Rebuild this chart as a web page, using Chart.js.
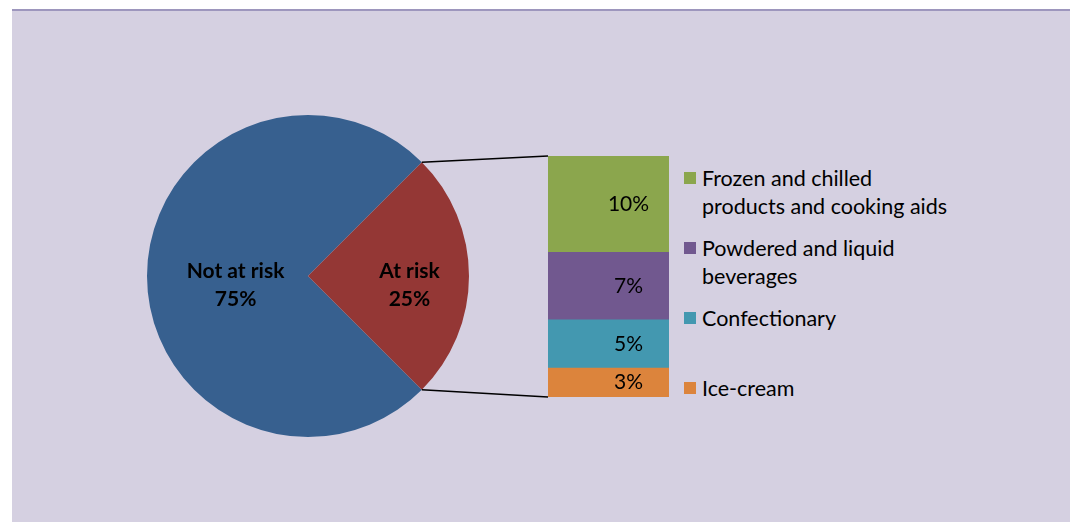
<!DOCTYPE html>
<html>
<head>
<meta charset="utf-8">
<script src="https://cdn.jsdelivr.net/npm/chart.js@4.4.1/dist/chart.umd.min.js"></script>
<style>
  body { margin: 0; width: 1070px; height: 522px; background: #fff; position: relative; overflow: hidden; font-family: Lato, sans-serif; }
  #frame { position: absolute; left: 12px; top: 9px; right: 0; bottom: 0; background: #d5d0e1; border-top: 2px solid #9d96bd; }
  .box { position: absolute; }
  #pieBox { left: 147px; top: 115px; width: 322px; height: 322px; }
  #barBox { left: 548px; top: 156px; width: 121px; height: 241px; }
  #lines { position: absolute; left: 0; top: 0; z-index: 2; pointer-events: none; }
  #legend { position: absolute; left: 684px; top: 164px; width: 320px; }
  .item { display: flex; align-items: flex-start; height: 70px; }
  .swatch { width: 12px; height: 12px; margin-top: 8px; margin-right: 6px; flex: none; }
  .label { font-size: 21.5px; line-height: 28px; color: #000; width: 254px; }
</style>
</head>
<body>
<div id="frame"></div>
<div class="box" id="pieBox"><canvas id="pieChart"></canvas></div>
<div class="box" id="barBox"><canvas id="barChart"></canvas></div>
<canvas id="lines" width="1070" height="522"></canvas>
<div id="legend"></div>

<script>
// main pie
const pieLabels = ['Not at risk', 'At risk'];
const pieValues = [75, 25];
const pieColors = ['#37608f', '#943735'];

// breakdown of the "At risk" slice (top to bottom)
const splitLabels = ['Frozen and chilled products and cooking aids', 'Powdered and liquid beverages', 'Confectionary', 'Ice-cream'];
const splitValues = [10, 7, 5, 3];
const splitColors = ['#8ba64d', '#71588f', '#4398b0', '#dc843c'];

Chart.defaults.font.family = 'Lato, sans-serif';

const pieText = {
    id: 'pieText',
    afterDatasetsDraw(chart) {
        const ctx = chart.ctx;
        const total = pieValues.reduce((a, b) => a + b, 0);
        const reach = [0.45, 0.63];
        ctx.save();
        ctx.font = 'bold 21px Lato, sans-serif';
        ctx.fillStyle = '#000';
        ctx.textAlign = 'center';
        ctx.textBaseline = 'middle';
        chart.getDatasetMeta(0).data.forEach((arc, i) => {
            const mid = (arc.startAngle + arc.endAngle) / 2;
            const cx = arc.x + Math.cos(mid) * arc.outerRadius * reach[i];
            const cy = arc.y + Math.sin(mid) * arc.outerRadius * reach[i];
            ctx.fillText(pieLabels[i], cx, cy - 5);
            ctx.fillText(Math.round(pieValues[i] / total * 100) + '%', cx, cy + 23);
        });
        ctx.restore();
    }
};

const pieChart = new Chart(document.getElementById('pieChart'), {
    type: 'pie',
    data: {
        labels: pieLabels,
        datasets: [{
            data: pieValues,
            backgroundColor: pieColors,
            borderWidth: 0
        }]
    },
    options: {
        responsive: true,
        maintainAspectRatio: false,
        animation: false,
        events: [],
        rotation: 135,
        plugins: {
            legend: { display: false },
            tooltip: { enabled: false }
        }
    },
    plugins: [pieText]
});

const barText = {
    id: 'barText',
    afterDatasetsDraw(chart) {
        const ctx = chart.ctx;
        ctx.save();
        ctx.font = '21px Lato, sans-serif';
        ctx.fillStyle = '#000';
        ctx.textAlign = 'center';
        ctx.textBaseline = 'middle';
        chart.data.datasets.forEach((ds, i) => {
            const el = chart.getDatasetMeta(i).data[0];
            ctx.fillText(ds.data[0] + '%', el.x + 20, (el.y + el.base) / 2);
        });
        ctx.restore();
    }
};

// stack from the bottom up, so reverse the top-to-bottom order
const stackSets = splitLabels.map((label, i) => ({
    label: label,
    data: [splitValues[i]],
    backgroundColor: splitColors[i],
    borderWidth: 0,
    barPercentage: 1,
    categoryPercentage: 1
})).reverse();

const barChart = new Chart(document.getElementById('barChart'), {
    type: 'bar',
    data: {
        labels: ['At risk'],
        datasets: stackSets
    },
    options: {
        responsive: true,
        maintainAspectRatio: false,
        animation: false,
        events: [],
        scales: {
            x: { display: false, stacked: true },
            y: { display: false, stacked: true, min: 0, max: splitValues.reduce((a, b) => a + b, 0) }
        },
        plugins: {
            legend: { display: false },
            tooltip: { enabled: false }
        }
    },
    plugins: [barText]
});

// connector lines between the "At risk" slice and the bar
function drawConnectors() {
    const octx = document.getElementById('lines').getContext('2d');
    octx.clearRect(0, 0, 1070, 522);
    const pr = pieChart.canvas.getBoundingClientRect();
    const br = barChart.canvas.getBoundingClientRect();
    const arc = pieChart.getDatasetMeta(0).data[1];
    const topEl = barChart.getDatasetMeta(stackSets.length - 1).data[0];
    const botEl = barChart.getDatasetMeta(0).data[0];
    const left = br.left + topEl.x - topEl.width / 2;
    const r = arc.outerRadius;
    octx.strokeStyle = '#000';
    octx.lineWidth = 1.5;
    octx.beginPath();
    octx.moveTo(pr.left + arc.x + Math.cos(arc.startAngle) * r, pr.top + arc.y + Math.sin(arc.startAngle) * r);
    octx.lineTo(left, br.top + topEl.y);
    octx.moveTo(pr.left + arc.x + Math.cos(arc.endAngle) * r, pr.top + arc.y + Math.sin(arc.endAngle) * r);
    octx.lineTo(left, br.top + botEl.base);
    octx.stroke();
}
drawConnectors();

// legend
const legend = document.getElementById('legend');
splitLabels.forEach((label, i) => {
    const item = document.createElement('div');
    item.className = 'item';
    item.innerHTML = '<span class="swatch" style="background:' + splitColors[i] + '"></span><span class="label">' + label + '</span>';
    legend.appendChild(item);
});
</script>
</body>
</html>
